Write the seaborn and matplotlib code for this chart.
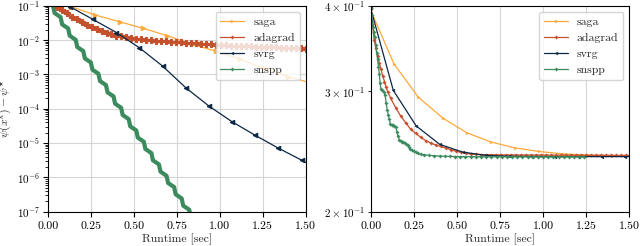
import matplotlib
matplotlib.use("Agg")
import matplotlib.pyplot as plt
import seaborn as sns

# ---- data: left panel, objective gap psi(x^k) - psi*
saga_t = [0.000, 0.135, 0.277, 0.420, 0.557, 0.696, 0.837, 0.977, 1.118, 1.258, 1.398, 1.538]
saga_gap = [1.56e-1, 9.5e-2, 5.4e-2, 3.4e-2, 2.2e-2, 1.34e-2, 7.6e-3, 4.8e-3, 2.8e-3, 1.5e-3, 8.7e-4, 5.5e-4]

svrg_t = [0.000, 0.131, 0.264, 0.400, 0.533, 0.669, 0.803, 0.938, 1.072, 1.206, 1.340, 1.476, 1.610]
svrg_gap = [1.56e-1, 9.3e-2, 4.0e-2, 1.66e-2, 6.0e-3, 1.74e-3, 4.1e-4, 1.2e-4, 4.2e-5, 1.7e-5, 7.2e-6, 3.2e-6, 1.4e-6]

adagrad_t = [0.023, 0.052, 0.081, 0.110, 0.139, 0.168, 0.197, 0.226, 0.255, 0.284, 0.313, 0.342,
             0.371, 0.400, 0.429, 0.458, 0.487, 0.516, 0.545, 0.574, 0.603, 0.632, 0.661, 0.690,
             0.719, 0.748, 0.777, 0.806, 0.835, 0.864, 0.893, 0.922, 0.951, 0.980, 1.009, 1.038,
             1.067, 1.096, 1.125, 1.154, 1.183, 1.212, 1.241, 1.270, 1.299, 1.328, 1.357, 1.386,
             1.415, 1.444, 1.473, 1.502]
adagrad_gap = [1.2e-1, 9.3e-2, 7.5e-2, 6.0e-2, 4.8e-2, 4.0e-2, 3.3e-2, 2.7e-2, 2.34e-2, 2.05e-2,
               1.79e-2, 1.63e-2, 1.48e-2, 1.36e-2, 1.28e-2, 1.21e-2, 1.15e-2, 1.10e-2, 1.06e-2,
               1.03e-2, 1.00e-2, 9.73e-3, 9.45e-3, 9.22e-3, 9.00e-3, 8.80e-3, 8.60e-3, 8.40e-3,
               8.20e-3, 8.00e-3, 7.82e-3, 7.65e-3, 7.48e-3, 7.32e-3, 7.16e-3, 7.05e-3, 6.94e-3,
               6.83e-3, 6.73e-3, 6.64e-3, 6.55e-3, 6.46e-3, 6.37e-3, 6.28e-3, 6.19e-3, 6.11e-3,
               6.03e-3, 5.95e-3, 5.87e-3, 5.80e-3, 5.73e-3, 5.66e-3]

snspp_t = [0.000, 0.031, 0.040, 0.075, 0.084, 0.119, 0.128, 0.163, 0.172, 0.207, 0.216, 0.251,
           0.260, 0.295, 0.304, 0.339, 0.348, 0.383, 0.392, 0.427, 0.436, 0.471, 0.480, 0.515,
           0.524, 0.559, 0.568, 0.603, 0.612, 0.647, 0.656, 0.691, 0.700, 0.735, 0.744, 0.779,
           0.788, 0.823, 0.832, 0.867]
snspp_gap = [1.56e-1, 1.00e-1, 6.17e-2, 4.68e-2, 2.88e-2, 2.19e-2, 1.35e-2, 1.02e-2, 6.31e-3,
             4.79e-3, 2.95e-3, 2.24e-3, 1.38e-3, 1.05e-3, 6.46e-4, 4.90e-4, 3.02e-4, 2.29e-4,
             1.41e-4, 1.07e-4, 6.61e-5, 5.01e-5, 3.09e-5, 2.34e-5, 1.45e-5, 1.10e-5, 6.76e-6,
             5.13e-6, 3.16e-6, 2.40e-6, 1.48e-6, 1.12e-6, 6.92e-7, 5.25e-7, 3.24e-7, 2.45e-7,
             1.51e-7, 1.15e-7, 7.08e-8, 5.37e-8]

# ---- data: right panel, objective value psi(x^k)
saga_psi = [0.394, 0.329, 0.294, 0.274, 0.261, 0.253, 0.248, 0.245, 0.243, 0.242, 0.2415, 0.2412]

svrg_psi = [0.3965, 0.301, 0.267, 0.251, 0.2445, 0.2418, 0.2411, 0.2409, 0.2408, 0.2408, 0.2408,
            0.2408, 0.2408]

adagrad_rt = [0.000, 0.010, 0.020, 0.030, 0.040, 0.050, 0.060, 0.070, 0.080, 0.090, 0.100,
              0.116, 0.145, 0.174, 0.203, 0.232, 0.261, 0.290, 0.319, 0.348, 0.377, 0.406,
              0.435, 0.464, 0.493, 0.522, 0.551, 0.580, 0.609, 0.638, 0.667, 0.696, 0.725,
              0.754, 0.783, 0.812, 0.841, 0.870, 0.899, 0.928, 0.957, 0.986, 1.015, 1.044,
              1.073, 1.102, 1.131, 1.160, 1.189, 1.218, 1.247, 1.276, 1.305, 1.334, 1.363,
              1.392, 1.421, 1.450, 1.479, 1.508]
adagrad_psi = [0.3965, 0.376, 0.357, 0.347, 0.338, 0.330, 0.323, 0.316, 0.310, 0.304, 0.299,
               0.293, 0.284, 0.276, 0.270, 0.264, 0.2605, 0.257, 0.2542, 0.2520, 0.2505, 0.2492,
               0.2479, 0.2466, 0.2453, 0.2443, 0.2436, 0.2431, 0.2427, 0.2425, 0.2424, 0.2423,
               0.2423, 0.2422, 0.2422, 0.2422, 0.2422, 0.2421, 0.2421, 0.2421, 0.2421, 0.2421,
               0.2420, 0.2420, 0.2420, 0.2420, 0.2420, 0.2420, 0.2419, 0.2419, 0.2419, 0.2419,
               0.2419, 0.2419, 0.2419, 0.2419, 0.2418, 0.2418, 0.2418, 0.2418]

snspp_rt = [0.000, 0.005, 0.010, 0.015, 0.020, 0.025, 0.030, 0.035, 0.040, 0.045, 0.050, 0.055,
            0.060, 0.068, 0.076, 0.084, 0.090, 0.096, 0.102, 0.108, 0.114, 0.122, 0.130, 0.138,
            0.146, 0.152, 0.158, 0.166, 0.174, 0.182, 0.190, 0.198, 0.206, 0.214, 0.222, 0.230,
            0.240, 0.250, 0.262, 0.276, 0.290, 0.310, 0.340, 0.370, 0.400, 0.430, 0.460, 0.490,
            0.520, 0.550, 0.580, 0.610, 0.640, 0.670, 0.700, 0.730, 0.760, 0.790, 0.820, 0.850,
            0.880, 0.910, 0.940, 0.970, 1.000, 1.030, 1.060, 1.090, 1.120, 1.150, 1.180, 1.210,
            1.240]
snspp_psi = [0.397, 0.388, 0.380, 0.372, 0.366, 0.360, 0.350, 0.341, 0.334, 0.326, 0.318, 0.308,
             0.302, 0.301, 0.299, 0.296, 0.288, 0.282, 0.277, 0.273, 0.269, 0.268, 0.2675, 0.267,
             0.266, 0.262, 0.258, 0.255, 0.2538, 0.2532, 0.2527, 0.2522, 0.2512, 0.2500, 0.2485,
             0.2472, 0.2460, 0.2450, 0.2442, 0.2434, 0.2428, 0.2423, 0.2418, 0.2415, 0.2413,
             0.2411, 0.2410, 0.2409, 0.2408, 0.2407, 0.2407, 0.2407, 0.2407, 0.2407, 0.2407,
             0.2407, 0.2407, 0.2407, 0.2407, 0.2407, 0.2407, 0.2407, 0.2407, 0.2407, 0.2407,
             0.2407, 0.2407, 0.2407, 0.2407, 0.2407, 0.2407, 0.2407, 0.2407]

COLORS = {"saga": "#FDA93A", "adagrad": "#C4502C", "svrg": "#0C2846", "snspp": "#3C8B5E"}


def draw(ax, x, y, name, marker, ms, lw=0.9, mew=0.8):
    col = COLORS[name]
    sns.lineplot(x=x, y=y, ax=ax, color=col, lw=lw, label=name,
                 marker=marker, markersize=ms, markeredgewidth=mew,
                 markeredgecolor=col, markerfacecolor=col,
                 estimator=None, sort=False, legend=False)


def main() -> None:
    sns.set_style("whitegrid")
    plt.rcParams.update({
        "font.family": "serif",
        "font.serif": ["cmr10", "DejaVu Serif"],
        "mathtext.fontset": "cm",
        "axes.formatter.use_mathtext": True,
        "axes.unicode_minus": False,
        "font.size": 8.5,
        "axes.labelsize": 8.5,
        "xtick.labelsize": 8.5,
        "ytick.labelsize": 8,
        "legend.fontsize": 8.5,
        "axes.edgecolor": "black",
        "axes.linewidth": 0.8,
        "grid.color": "#d6d6d6",
        "grid.linewidth": 0.8,
        "xtick.bottom": True,
        "ytick.left": True,
        "xtick.color": "black",
        "ytick.color": "black",
        "xtick.major.size": 3.5,
        "ytick.major.size": 3.5,
        "ytick.minor.size": 2,
        "ytick.major.pad": 2,
        "ytick.minor.pad": 2,
        "ytick.minor.visible": True,
    })

    fig = plt.figure(figsize=(6.4, 2.46), dpi=100)
    ax1 = fig.add_axes([0.0745, 0.139, 0.4031, 0.8374])
    ax2 = fig.add_axes([0.5792, 0.139, 0.404, 0.8374])

    # right panel first, its lines serve as legend handles for both
    draw(ax2, saga_t, saga_psi, "saga", ">", 2.0, mew=0.3)
    draw(ax2, adagrad_rt, adagrad_psi, "adagrad", "P", 2.2, mew=0.3)
    draw(ax2, svrg_t, svrg_psi, "svrg", "<", 2.0, mew=0.3)
    draw(ax2, snspp_rt, snspp_psi, "snspp", "P", 2.2, mew=0.3)
    ax2.set_yscale("log")
    ax2.set_ylim(0.2, 0.4)
    ax2.set_xlim(0, 1.5)
    ax2.set_xticks([0, 0.25, 0.5, 0.75, 1.0, 1.25, 1.5])
    ax2.set_xticklabels([f"{v:.2f}" for v in ax2.get_xticks()])
    ax2.set_xlabel("Runtime [sec]", labelpad=2)
    ax2.set_ylabel("")
    handles, labels = ax2.get_legend_handles_labels()
    ax2.legend(handles, labels, loc="upper right")

    draw(ax1, saga_t, saga_gap, "saga", ">", 3.2)
    draw(ax1, adagrad_t, adagrad_gap, "adagrad", "P", 4.2)
    draw(ax1, svrg_t, svrg_gap, "svrg", "<", 3.2)
    draw(ax1, snspp_t, snspp_gap, "snspp", None, 0, lw=3.0)
    ax1.set_yscale("log")
    ax1.set_ylim(1e-7, 1e-1)
    ax1.set_xlim(0, 1.5)
    ax1.set_xticks([0, 0.25, 0.5, 0.75, 1.0, 1.25, 1.5])
    ax1.set_xticklabels([f"{v:.2f}" for v in ax1.get_xticks()])
    ax1.set_xlabel("Runtime [sec]", labelpad=2)
    ax1.set_ylabel(r"$\psi(x^k) - \psi^{\star}$")
    ax1.yaxis.set_label_coords(-0.13, 0.5)
    ax1.legend(handles, labels, loc="upper right")

    for ax in (ax1, ax2):
        ax.grid(True, which="major")
        ax.grid(False, which="minor")
        for s in ax.spines.values():
            s.set_color("black")

    fig.savefig("out.png", dpi=100)
    plt.close(fig)


if __name__ == "__main__":
    main()
